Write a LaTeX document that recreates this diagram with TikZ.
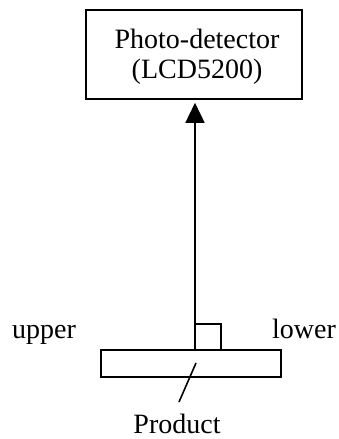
\documentclass[tikz,border=0pt]{standalone}
\usepackage{fontspec}
\setmainfont{Liberation Serif}
\usetikzlibrary{arrows.meta}
\begin{document}
\begin{tikzpicture}[x=1pt,y=-1pt,line width=1.6pt,
  txt/.style={font=\fontsize{28}{30}\selectfont, inner sep=0pt},
  boxed/.style={draw, inner sep=0pt}]
\useasboundingbox (0,0) rectangle (338,439);
\node[boxed, minimum width=216pt, minimum height=89pt] (det) at (194,54.5) {};
\node[txt, anchor=base] (l1) at (197,48) {Photo-detector};
\node[txt, anchor=base] (l2) at (197,78) {(LCD5200)};
\node[boxed, minimum width=180pt, minimum height=27pt] (prod) at (191,363.5) {};
\coordinate (foot) at (195,350);
\coordinate (sq) at (221,324);
\draw[-{Triangle[length=20pt,width=19pt]}, shorten >=3pt] (foot) -- (foot |- det.south);
\draw (foot |- sq) -- (sq) -- (sq |- foot);
\coordinate (s1) at (196,363);
\coordinate (s2) at (179,402);
\draw (s1) -- (s2);
\node[txt, anchor=base] (up) at (44,338) {upper};
\node[txt, anchor=base] (lo) at (304,338) {lower};
\node[txt, anchor=base] (pr) at (177,433) {Product};
\end{tikzpicture}
\end{document}
